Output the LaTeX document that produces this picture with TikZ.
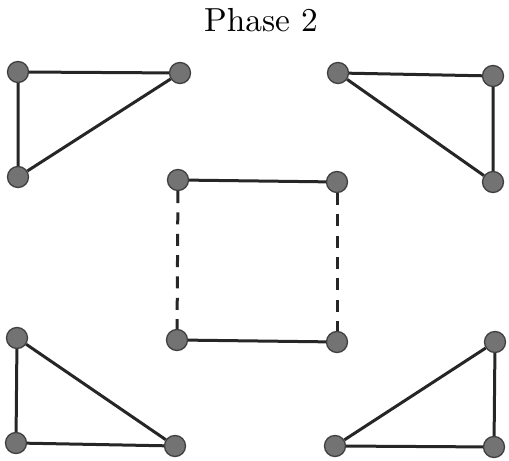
\documentclass[tikz,border=0pt]{standalone}
\usepackage{tikz}
\usetikzlibrary{shapes,arrows}

\tikzset{
  dot/.style={circle, fill=black!55, draw=black!75, line width=0.4pt, inner sep=0pt, minimum size=6.3pt},
  edge/.style={line width=0.9pt, black!85},
  dashedge/.style={line width=0.9pt, black!85, dash pattern=on 3.6pt off 2.8pt}
}

\begin{document}
\begin{tikzpicture}[x=0.3pt, y=-0.3pt]
\useasboundingbox (0,0) rectangle (509,461);
\node[font=\fontsize{10}{12}\selectfont, anchor=base] (title) at (261,32) {Phase 2};
% top left triangle
\node[dot] (a1) at (18,72) {};
\node[dot] (a2) at (180,73) {};
\node[dot] (a3) at (18,177) {};
% top right triangle
\node[dot] (b1) at (338,73) {};
\node[dot] (b2) at (493,76) {};
\node[dot] (b3) at (493,182) {};
% square in the middle
\node[dot] (c1) at (178,180) {};
\node[dot] (c2) at (337,182) {};
\node[dot] (c3) at (177,340) {};
\node[dot] (c4) at (337,342) {};
% bottom left triangle
\node[dot] (d1) at (17,338) {};
\node[dot] (d2) at (16,443) {};
\node[dot] (d3) at (175,446) {};
% bottom right triangle
\node[dot] (e1) at (495,342) {};
\node[dot] (e2) at (335,446) {};
\node[dot] (e3) at (494,447) {};
% edges
\draw[edge] (a1) -- (a2) -- (a3) -- (a1);
\draw[edge] (b1) -- (b2) -- (b3) -- (b1);
\draw[edge] (c1) -- (c2);
\draw[edge] (c3) -- (c4);
\draw[dashedge] (c1) -- (c3);
\draw[dashedge] (c2) -- (c4);
\draw[edge] (d1) -- (d2) -- (d3) -- (d1);
\draw[edge] (e1) -- (e3) -- (e2) -- (e1);
\end{tikzpicture}
\end{document}
